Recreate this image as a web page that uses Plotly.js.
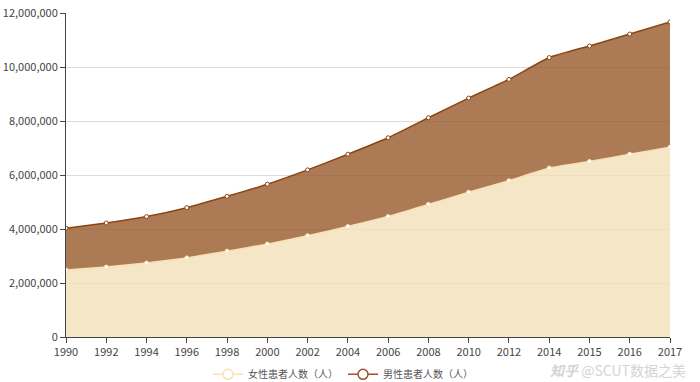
<!DOCTYPE html>
<html>
<head>
<meta charset="utf-8">
<script src="https://cdn.plot.ly/plotly-3.0.1.min.js"></script>
<style>html,body{margin:0;padding:0;background:#fff;}#chart{width:700px;height:382px;}</style>
</head>
<body>
<div id="chart"></div>
<script>
const years = ['1990','1992','1994','1996','1998','2000','2002','2004','2006','2008','2010','2012','2014','2015','2016','2017'];
const female = [2480000,2590000,2740000,2930000,3180000,3440000,3750000,4090000,4460000,4910000,5360000,5790000,6260000,6500000,6770000,7030000];
const male = [1550000,1630000,1720000,1860000,2030000,2220000,2440000,2680000,2920000,3210000,3490000,3750000,4090000,4280000,4450000,4640000];
const femaleName = '女性患者人数（人）';
const maleName = '男性患者人数（人）';
const yTicks = [0,2000000,4000000,6000000,8000000,10000000,12000000];

const font = '"Noto Sans CJK SC", "Noto Sans", sans-serif';
const femaleLine = '#f7e1b5';
const maleLine = '#8b4513';

const traces = [
  {
    x: years, y: female, name: femaleName, type: 'scatter', mode: 'lines+markers',
    stackgroup: 'one', fill: 'tozeroy', showlegend: false,
    fillcolor: 'rgba(243,224,186,0.8)',
    line: {color: femaleLine, width: 1.5, shape: 'spline', smoothing: 0.4},
    marker: {size: 4, color: '#ffffff', line: {color: femaleLine, width: 1}}
  },
  {
    x: years, y: male, name: maleName, type: 'scatter', mode: 'lines+markers',
    stackgroup: 'one', fill: 'tonexty', showlegend: false,
    fillcolor: 'rgba(153,89,44,0.8)',
    line: {color: maleLine, width: 1.5, shape: 'spline', smoothing: 0.4},
    marker: {size: 4, color: '#ffffff', line: {color: maleLine, width: 1}}
  },
  {
    x: [null], y: [null], name: femaleName, type: 'scatter', mode: 'lines+markers',
    line: {color: femaleLine, width: 1.5},
    marker: {size: 10, color: '#ffffff', line: {color: femaleLine, width: 1.5}}
  },
  {
    x: [null], y: [null], name: maleName, type: 'scatter', mode: 'lines+markers',
    line: {color: '#a0522d', width: 1.5},
    marker: {size: 10, color: '#ffffff', line: {color: '#a0522d', width: 1.5}}
  }
];

const layout = {
  width: 700, height: 382,
  margin: {l: 66, r: 30, t: 13, b: 45},
  paper_bgcolor: '#ffffff', plot_bgcolor: '#ffffff',
  font: {family: font, size: 11, color: '#444'},
  showlegend: true,
  legend: {orientation: 'h', xref: 'container', yref: 'container',
           x: 0.49, xanchor: 'center', y: 0.02, yanchor: 'middle',
           font: {size: 10, color: '#555'}, itemwidth: 30, traceorder: 'normal'},
  xaxis: {
    type: 'category', range: [0, years.length - 1],
    showgrid: false, showline: true, linecolor: '#444', linewidth: 1,
    ticks: 'outside', ticklen: 5, tickcolor: '#444',
    tickfont: {size: 11, color: '#444'}, zeroline: false, automargin: false
  },
  yaxis: {
    range: [0, 12000000], tickvals: yTicks, tickformat: ',d',
    showgrid: true, gridcolor: '#dcdcdc', gridwidth: 1,
    showline: true, linecolor: '#444', linewidth: 1,
    ticks: 'outside', ticklen: 5, tickcolor: '#444',
    tickfont: {size: 11, color: '#444'}, zeroline: false, automargin: false
  },
  annotations: [
    {xref: 'paper', yref: 'paper', x: 1.03, y: -0.102, xanchor: 'right', yanchor: 'middle',
     text: '<i><b>知乎</b></i> @SCUT数据之美', showarrow: false,
     font: {family: font, size: 14, color: '#d4d4d4'}}
  ]
};

Plotly.newPlot('chart', traces, layout, {displayModeBar: false, staticPlot: true});
</script>
</body>
</html>
